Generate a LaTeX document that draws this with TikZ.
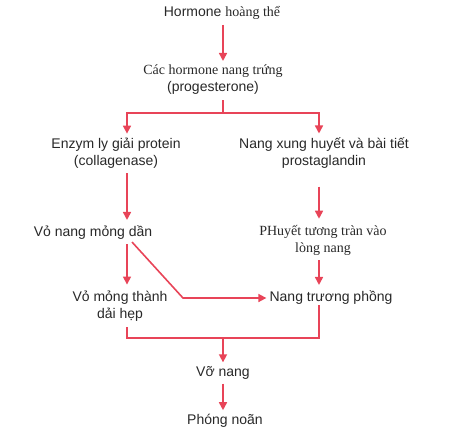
\documentclass[tikz,border=0pt]{standalone}
\usepackage{fontspec}
\setmainfont{Liberation Sans}
\newfontfamily\serifvn{Liberation Serif}
\usetikzlibrary{arrows.meta,positioning,calc}
\definecolor{flowred}{RGB}{232,68,88}
\definecolor{txtgray}{RGB}{40,40,40}

\begin{document}
\begin{tikzpicture}[x=1pt,y=-1pt,
  every node/.style={font=\fontsize{14}{17}\selectfont, text=txtgray,
                     inner sep=0pt, align=center},
  flow/.style={draw=flowred, line width=1.6pt},
  arr/.style={flow, -{Triangle[length=8pt,width=8pt]}}]

% Background
\useasboundingbox (0,0) rectangle (449,437);

% Steps
\node (horm) at (222,13) {Hormone {\serifvn hoàng thể}};
\node (folhorm) at (213,80) {{\serifvn Các hormone nang trứng}\\(progesterone)};
\node (enzyme) at (116,153) {Enzym ly giải protein\\(collagenase)};
\node (hyper) at (324,153) {Nang xung huyết và bài tiết\\prostaglandin};
\node (thin) at (93,233) {Vỏ nang mỏng dần};
\node (plasma) at (323,240) {\serifvn PHuyết tương tràn vào\\\serifvn lòng nang};
\node (narrow) at (120,306) {Vỏ mỏng thành\\dải hẹp};
\node (swell) at (331,298) {Nang trương phồng};
\node (rupture) at (223,373) {Vỡ nang};
\node (ovul) at (225,421) {Phóng noãn};

% Junctions
\coordinate (split) at (223,113);
\coordinate (splitL) at (127,113);
\coordinate (splitR) at (319,113);
\coordinate (bend) at (183,298);
\coordinate (joinL) at (127,338);
\coordinate (joinR) at (319,338);
\coordinate (join) at (223,338);

% Arrows
\draw[arr, shorten <=5pt, shorten >=4pt] (horm.south -| split) -- (folhorm.north -| split);
\draw[flow, shorten <=5pt] (folhorm.south -| split) -- (split);
\draw[arr, shorten >=4pt] (split) -| (enzyme.north -| splitL);
\draw[arr, shorten >=4pt] (split) -| (hyper.north -| splitR);
\draw[arr, shorten <=5pt, shorten >=6pt] (enzyme.south -| splitL) -- (thin.north -| splitL);
\draw[arr, shorten <=18pt, shorten >=6pt] (hyper.south -| splitR) -- (plasma.north -| splitR);
\draw[arr, shorten <=4pt, shorten >=6pt] (thin.south -| splitL) -- (narrow.north -| splitL);
\draw[arr, shorten >=3pt] ($(thin.south -| splitL)+(5,2)$) -- (bend) -- (swell.west);
\draw[arr, shorten <=5pt, shorten >=6pt] (plasma.south -| splitR) -- (swell.north -| splitR);
\draw[flow, shorten <=6pt] (narrow.south -| joinL) -- (joinL) -- (joinR) -- (swell.south -| joinR);
\draw[arr, shorten >=4pt] (join) -- (rupture.north -| join);
\draw[arr, shorten <=4pt, shorten >=4pt] (rupture.south -| join) -- (ovul.north -| join);

\end{tikzpicture}
\end{document}
